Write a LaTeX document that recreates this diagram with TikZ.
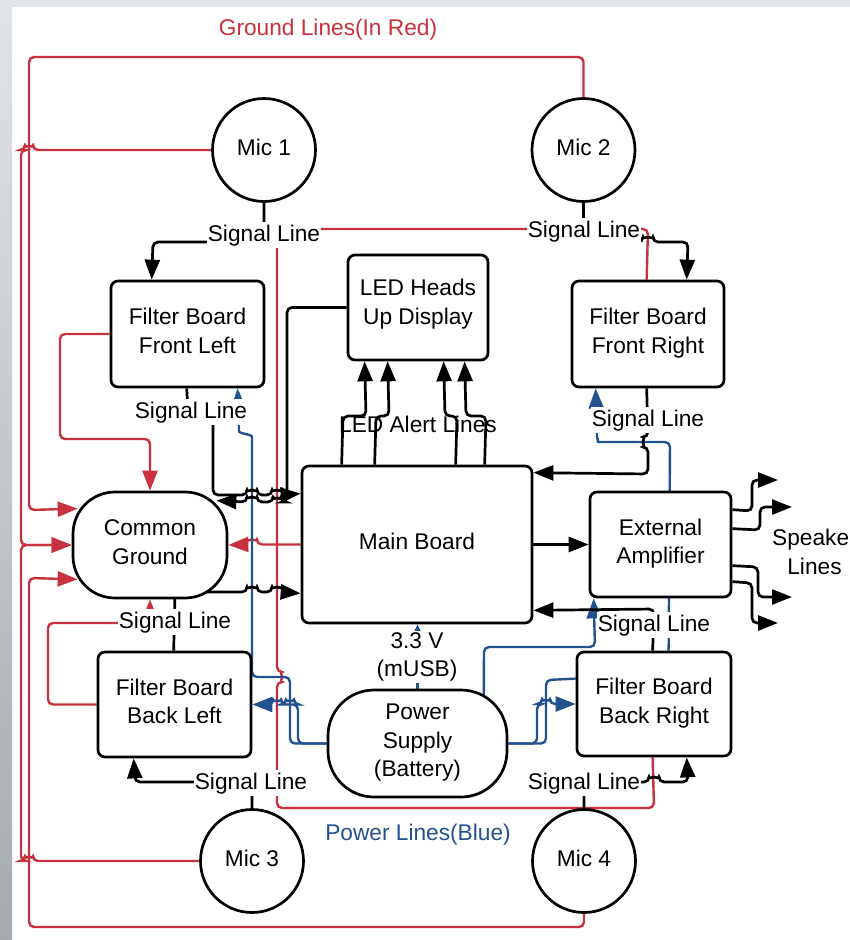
\documentclass[tikz,border=0pt]{standalone}
\usepackage{fontspec}
\setmainfont{Liberation Sans}
\usetikzlibrary{arrows.meta}
\definecolor{gred}{RGB}{200,50,62}
\definecolor{pblue}{RGB}{35,82,142}
\definecolor{stripA}{RGB}{226,229,231}
\definecolor{stripB}{RGB}{165,170,173}
\pgfdeclarelayer{back}
\pgfdeclarelayer{lines}
\pgfsetlayers{back,lines,main}
\tikzset{
 box/.style={draw=black,line width=2.7pt,rounded corners=7pt,fill=white,align=center,inner sep=0pt,text depth=6pt},
 mic/.style={draw=black,line width=2.7pt,circle,fill=white,minimum size=103pt,inner sep=0pt,text depth=6pt},
 term/.style={draw=black,line width=2.7pt,rounded corners=42pt,fill=white,align=center,inner sep=0pt,text depth=6pt},
 lbl/.style={fill=white,inner xsep=1pt,inner ysep=2.5pt,anchor=base},
 blk/.style={draw=black,line width=2.7pt,rounded corners=5pt},
 gnd/.style={draw=gred,line width=2.4pt,rounded corners=5pt},
 pwr/.style={draw=pblue,line width=2.4pt,rounded corners=5pt},
 arw/.style={-{Triangle[length=20pt,width=15pt]}},
}
\begin{document}
\begin{tikzpicture}[x=1pt,y=1pt,font=\fontsize{22.7}{28.5}\selectfont]
\useasboundingbox (0,0) rectangle (850,-940);
\clip (0,0) rectangle (850,-940);
\begin{pgfonlayer}{back}
\fill[white] (0,0) rectangle (850,-940);
\fill[stripA] (0,0) rectangle (850,-7);
\shade[top color=stripA,bottom color=stripB] (0,0) rectangle (12,-940);
\node[anchor=base] (alert) at (418,-432) {LED Alert Lines};
\end{pgfonlayer}

% nodes
\node[mic] (mic1) at (264,-150) {Mic 1};
\node[mic] (mic2) at (583.5,-150) {Mic 2};
\node[mic] (mic3) at (252,-861) {Mic 3};
\node[mic] (mic4) at (584,-861) {Mic 4};
\node[box,minimum width=153pt,minimum height=106pt] (fbfl) at (187.5,-334) {Filter Board\\Front Left};
\node[box,minimum width=152pt,minimum height=106pt] (fbfr) at (648,-334) {Filter Board\\Front Right};
\node[box,minimum width=153pt,minimum height=105pt] (fbbl) at (174.5,-704.5) {Filter Board\\Back Left};
\node[box,minimum width=154pt,minimum height=104pt] (fbbr) at (654,-704) {Filter Board\\Back Right};
\node[box,text depth=11pt,minimum width=140pt,minimum height=105pt] (led) at (418,-307.5) {LED Heads\\Up Display};
\node[box,minimum width=230pt,minimum height=157pt] (main) at (417,-544.5) {Main Board};
\node[box,minimum width=141pt,minimum height=105pt] (ea) at (660.5,-544.5) {External\\Amplifier};
\node[term,minimum width=154pt,minimum height=106pt] (cg) at (150,-545) {Common\\Ground};
\node[term,rounded corners=46pt,minimum width=179pt,minimum height=107pt] (ps) at (417.5,-743.5) {Power\\Supply\\(Battery)};

% labels
\node[lbl] (l1) at (264,-241) {Signal Line};
\node[lbl] (l2) at (584,-237) {Signal Line};
\node[lbl] (l3) at (191,-418) {Signal Line};
\node[lbl] (l4) at (648,-426) {Signal Line};
\node[lbl] (l5) at (175,-628) {Signal Line};
\node[lbl] (l6) at (654,-631) {Signal Line};
\node[lbl] (l7) at (251,-789) {Signal Line};
\node[lbl] (l8) at (584,-789) {Signal Line};
\node[fill=white,align=center,inner sep=1pt] (v33) at (417,-657) {3.3 V\\(mUSB)};
\node[anchor=base,text=gred] (gt) at (328,-35) {Ground Lines(In Red)};
\node[anchor=base,text=pblue] (pt) at (418,-840) {Power Lines(Blue)};
\node[align=center] (spk) at (814.5,-552) {Speaker\\Lines};

\coordinate (sp1) at (778,-480);
\coordinate (sp2) at (792,-507);
\coordinate (sp3) at (792,-597);
\coordinate (sp4) at (778,-623);

\begin{pgfonlayer}{lines}
% ground (red)
\draw[gnd,arw] (mic2.north) -- (583.5,-57) -- (29,-57) -- (29,-510) -- ([xshift=6pt,yshift=-18pt]cg.north west);
\draw[gnd,arw] (mic1.west) -- (33,-150) arc[start angle=0,end angle=180,radius=4pt] -- (21,-150) -- (21,-545) -- (cg.west);
\draw[gnd,arw] (mic3.west) -- (33,-861) arc[start angle=0,end angle=180,radius=4pt] -- (21,-861) -- (21,-545) -- (cg.west);
\draw[gnd,arw] (mic4.south) -- (584,-927) -- (29,-927) -- (29,-578) -- ([xshift=6pt,yshift=20pt]cg.south west);
\draw[gnd,arw] (fbfl.west) -- (60,-334) -- (60,-439) -- (150,-439) -- (cg.north);
\draw[gnd,arw] (fbbl.west) -- (48,-704.5) -- (48,-623) -- (150,-623) -- (cg.south);
\draw[gnd,arw] (main.west) -- (257,-544.5) arc[start angle=0,end angle=180,radius=5pt] -- (cg.east);
\draw[gnd] ([xshift=76pt]fbfr.north west) -- (648,-229) -- (277,-229) -- (277,-672) arc[start angle=90,end angle=-90,radius=5pt] -- (277,-808) -- (654,-808) -- ([xshift=77pt]fbbr.south west);
% power (blue)
\draw[pwr,arw] (ps.west) -- (290,-743.5) -- (290,-677) -- (252,-677) -- (252,-442) to[out=90,in=-90] (239,-426) -- ([xshift=128pt]fbfl.south west);
\draw[pwr,arw] (ps.west) -- (298,-743.5) -- (298,-704.5) -- (294,-704.5) arc[start angle=0,end angle=180,radius=4pt] -- (281,-704.5) arc[start angle=0,end angle=180,radius=4pt] -- (fbbl.east);
\draw[pwr] (ps.east) -- (546,-743.5) -- (546,-680) -- ([yshift=-28pt]fbbr.north west);
\draw[pwr,arw] (ps.east) -- (537,-743.5) -- (537,-704) -- (542,-704) arc[start angle=180,end angle=0,radius=4pt] -- (fbbr.west);
\draw[pwr,arw] ([xshift=66pt,yshift=-10pt]ps.center) -- (484,-647) -- (595,-647) -- ([xshift=5pt]ea.south west);
\draw[pwr,-{Triangle[length=10pt,width=9pt]}] (ps.north) -- (ps.north |- main.south);
\draw[pwr,arw] ([xshift=93pt]fbbr.north west) -- (670,-442) -- (603,-442) to[out=180,in=-90] (597,-432) -- ([xshift=25pt]fbfr.south west);
% signal (black)
\draw[blk,arw] (mic1.south) -- (264,-242) -- (153,-242) -- ([xshift=42pt]fbfl.north west);
\draw[blk,arw] (mic2.south) -- (583.5,-242) -- (643,-242) arc[start angle=180,end angle=0,radius=5pt] -- (688,-242) -- ([xshift=116pt]fbfr.north west);
\draw[blk,arw] ([xshift=77pt]fbfl.south west) -- (188,-411) -- (213,-411) -- (213,-495) -- (247,-495) arc[start angle=180,end angle=0,radius=5pt] -- (272,-495) arc[start angle=180,end angle=0,radius=5pt] -- ([yshift=-29pt]main.north west);
\draw[blk,arw] (led.west) -- (287,-307.5) -- (287,-502) -- (281,-502) arc[start angle=0,end angle=180,radius=4pt] -- (257,-502) arc[start angle=0,end angle=180,radius=5pt] -- ([xshift=-12pt,yshift=-10pt]cg.north east);
\draw[blk,arw] ([xshift=77pt]fbbl.north west) -- (175,-592) -- (247,-592) arc[start angle=180,end angle=0,radius=5pt] -- (272,-592) arc[start angle=180,end angle=0,radius=5pt] -- ([yshift=31pt]main.south west);
\draw[blk,arw] ([xshift=76pt]fbfr.south west) -- (648,-437) arc[start angle=90,end angle=270,radius=5pt] -- (648,-474) -- ([yshift=-8pt]main.north east);
\draw[blk,arw] ([xshift=77pt]fbbr.north west) -- (654,-609) -- ([yshift=14pt]main.south east);
\draw[blk,arw] (main.east) -- (ea.west);
\draw[blk,arw] (mic3.north) -- (252,-782) -- (135,-782) -- ([xshift=37pt]fbbl.south west);
\draw[blk,arw] (mic4.north) -- (584,-782) -- (649,-782) arc[start angle=180,end angle=0,radius=5pt] -- (688,-782) -- ([xshift=111pt]fbbr.south west);
% LED alert lines
\draw[blk,arw] ([xshift=41pt]main.north west) -- (343,-416) -- (366,-416) -- ([xshift=18pt]led.south west);
\draw[blk,arw] ([xshift=74pt]main.north west) -- (376,-416) -- (389,-416) -- ([xshift=41pt]led.south west);
\draw[blk,arw] ([xshift=155pt]main.north west) -- (457,-416) -- (445,-416) -- ([xshift=97pt]led.south west);
\draw[blk,arw] ([xshift=184pt]main.north west) -- (486,-416) -- (466,-416) -- ([xshift=118pt]led.south west);
% speaker lines
\draw[blk,arw] ([yshift=-19pt]ea.north east) -- (752,-511) -- (752,-480) -- (sp1);
\draw[blk,arw] ([yshift=-38pt]ea.north east) -- (760,-530) -- (760,-507) -- (sp2);
\draw[blk,arw] ([yshift=-75pt]ea.north east) -- (758,-567) -- (758,-597) -- (sp3);
\draw[blk,arw] ([yshift=-91pt]ea.north east) -- (752,-583) -- (752,-623) -- (sp4);
\end{pgfonlayer}
\end{tikzpicture}
\end{document}
